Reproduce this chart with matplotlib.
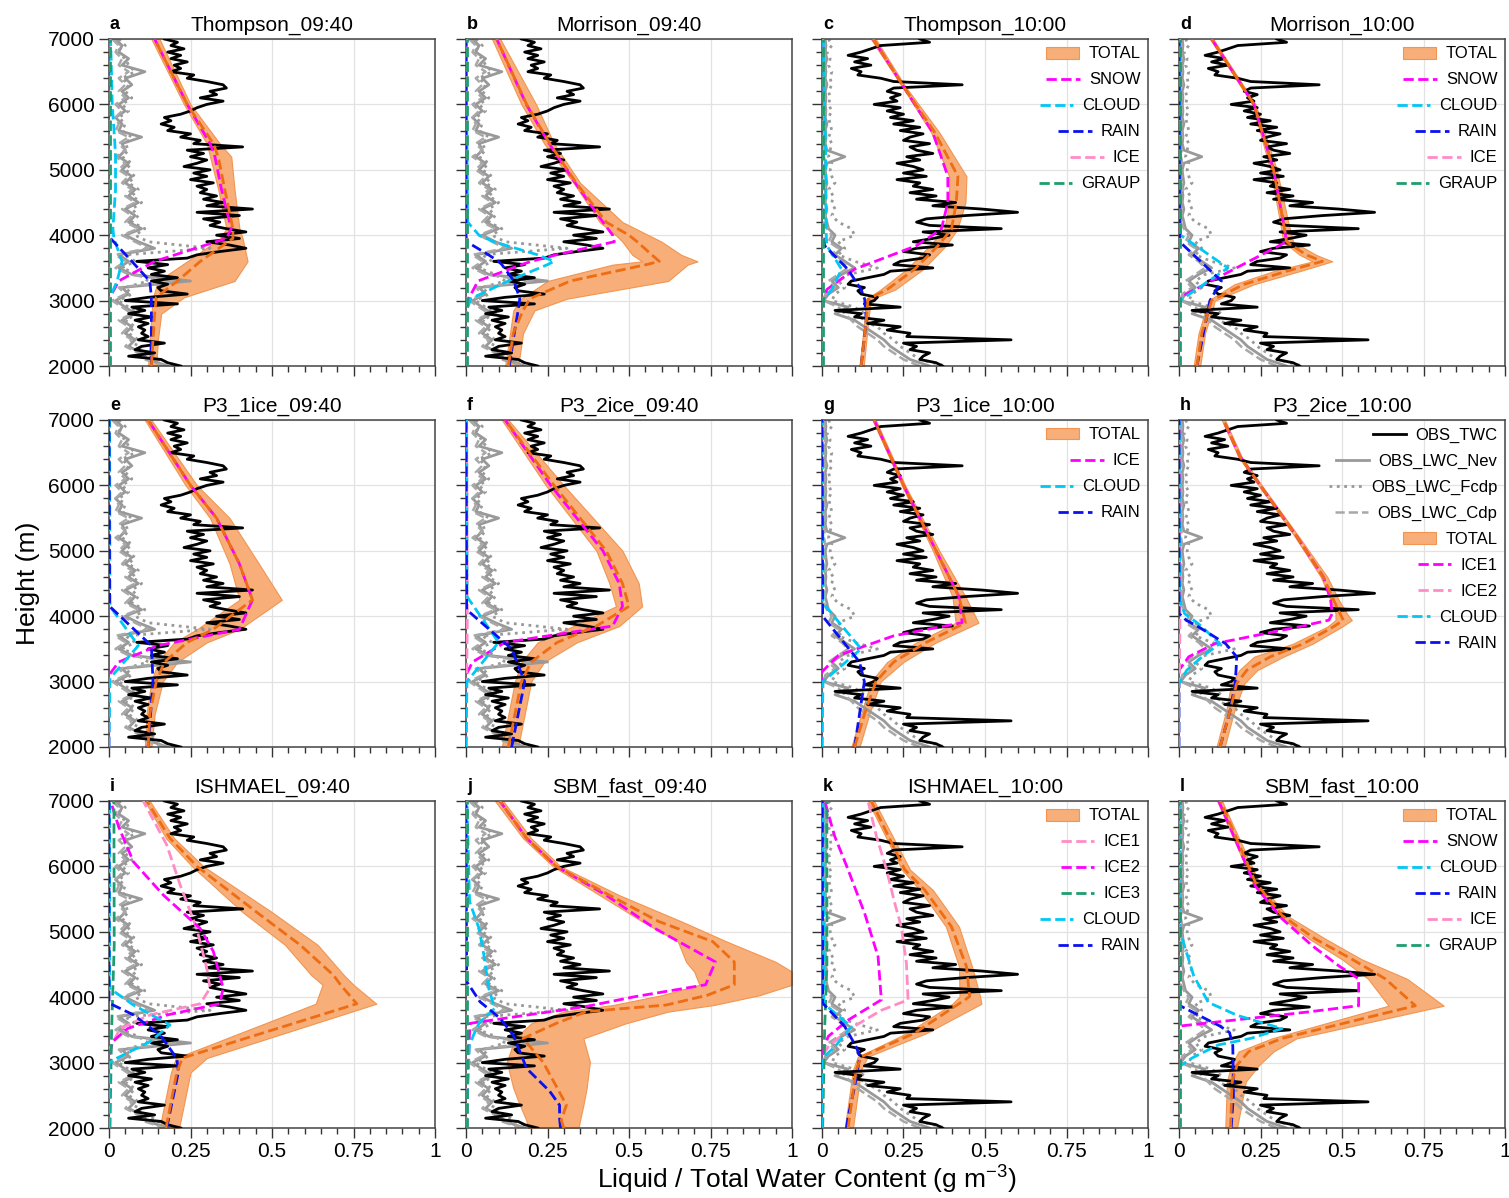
import matplotlib
matplotlib.use("Agg")
import matplotlib.pyplot as plt
from matplotlib.patches import Patch
from matplotlib.lines import Line2D
from matplotlib.ticker import MultipleLocator, FixedLocator

plt.rcParams['font.family'] = ['Liberation Sans', 'DejaVu Sans']
plt.rcParams['mathtext.fontset'] = 'custom'
plt.rcParams['mathtext.rm'] = 'Liberation Sans'
plt.rcParams['mathtext.it'] = 'Liberation Sans:italic'

# ---------------- observations ----------------
OBS_Z50 = list(range(7000, 1950, -50))
OBS_Z100 = list(range(7000, 1950, -100))

TWC_0940 = [0.17, 0.21, 0.19, 0.23, 0.18, 0.22, 0.19, 0.24, 0.20, 0.22,
            0.19, 0.26, 0.24, 0.30, 0.35, 0.36, 0.31, 0.33, 0.28, 0.35,
            0.30, 0.27, 0.25, 0.22, 0.17, 0.19, 0.16, 0.20, 0.18, 0.25,
            0.22, 0.28, 0.26, 0.41, 0.24, 0.29, 0.25, 0.30, 0.27, 0.23,
            0.31, 0.26, 0.30, 0.25, 0.32, 0.27, 0.30, 0.28, 0.33, 0.29,
            0.35, 0.30, 0.44, 0.27, 0.40, 0.29, 0.34, 0.31, 0.36, 0.42,
            0.33, 0.40, 0.30, 0.37, 0.42, 0.34, 0.27, 0.24, 0.085, 0.18,
            0.12, 0.17, 0.13, 0.21, 0.13, 0.18, 0.15, 0.16, 0.24, 0.12,
            0.05, 0.21, 0.07, 0.11, 0.06, 0.13, 0.08, 0.12, 0.09, 0.11,
            0.10, 0.12, 0.09, 0.17, 0.10, 0.08, 0.14, 0.06, 0.16, 0.18,
            0.22]
TWC_1000 = [0.30, 0.33, 0.18, 0.15, 0.12, 0.08, 0.14, 0.10, 0.15, 0.09,
            0.12, 0.11, 0.18, 0.22, 0.43, 0.22, 0.20, 0.24, 0.21, 0.23,
            0.16, 0.24, 0.20, 0.25, 0.21, 0.28, 0.22, 0.30, 0.24, 0.31,
            0.27, 0.25, 0.33, 0.27, 0.29, 0.34, 0.26, 0.30, 0.23, 0.28,
            0.31, 0.25, 0.32, 0.23, 0.30, 0.28, 0.34, 0.27, 0.35, 0.29,
            0.41, 0.34, 0.49, 0.60, 0.44, 0.32, 0.29, 0.33, 0.55, 0.31,
            0.39, 0.34, 0.28, 0.40, 0.29, 0.25, 0.33, 0.31, 0.24, 0.22,
            0.34, 0.21, 0.19, 0.14, 0.09, 0.08, 0.13, 0.11, 0.12, 0.17,
            0.16, 0.13, 0.24, 0.04, 0.12, 0.10, 0.19, 0.14, 0.24, 0.20,
            0.27, 0.26, 0.58, 0.25, 0.29, 0.27, 0.33, 0.31, 0.30, 0.35,
            0.37]

NEV_0940 = [0.02, 0.04, 0.03, 0.06, 0.04, 0.11, 0.05, 0.07, 0.04, 0.06,
            0.03, 0.05, 0.02, 0.04, 0.03, 0.10, 0.04, 0.05, 0.03, 0.06,
            0.04, 0.07, 0.05, 0.08, 0.06, 0.09, 0.05, 0.08, 0.06, 0.10,
            0.05, 0.09, 0.14, 0.03, 0.06, 0.03, 0.07, 0.25, 0.04, 0.06,
            0.02, 0.05, 0.08, 0.04, 0.07, 0.05, 0.08, 0.06, 0.10, 0.12,
            0.18]
FCDP_0940 = [0.03, 0.05, 0.02, 0.05, 0.06, 0.08, 0.04, 0.06, 0.05, 0.07,
             0.04, 0.06, 0.03, 0.05, 0.04, 0.07, 0.05, 0.06, 0.04, 0.07,
             0.05, 0.08, 0.06, 0.09, 0.07, 0.10, 0.07, 0.09, 0.07, 0.11,
             0.08, 0.12, 0.31, 0.05, 0.08, 0.04, 0.09, 0.12, 0.05, 0.07,
             0.03, 0.06, 0.09, 0.05, 0.08, 0.06, 0.09, 0.08, 0.12, 0.15,
             0.21]
CDP_0940 = [0.01, 0.03, 0.02, 0.04, 0.03, 0.06, 0.03, 0.05, 0.03, 0.05,
            0.02, 0.04, 0.02, 0.03, 0.02, 0.06, 0.03, 0.05, 0.02, 0.05,
            0.03, 0.06, 0.04, 0.07, 0.05, 0.08, 0.04, 0.07, 0.05, 0.09,
            0.04, 0.08, 0.12, 0.02, 0.05, 0.02, 0.06, 0.20, 0.03, 0.05,
            0.01, 0.04, 0.07, 0.03, 0.06, 0.04, 0.07, 0.05, 0.09, 0.11,
            0.17]
NEV_1000 = [0.01, 0.012, 0.01, 0.015, 0.01, 0.012, 0.01, 0.015, 0.01, 0.012,
            0.01, 0.012, 0.01, 0.015, 0.01, 0.012, 0.01, 0.015, 0.07, 0.015,
            0.01, 0.012, 0.015, 0.01, 0.012, 0.01, 0.015, 0.01, 0.015, 0.02,
            0.04, 0.03, 0.06, 0.04, 0.07, 0.10, 0.06, 0.03, 0.05, 0.02,
            0.005, 0.08, 0.04, 0.10, 0.13, 0.16, 0.19, 0.21, 0.24, 0.27,
            0.33]
FCDP_1000 = [0.02, 0.03, 0.015, 0.025, 0.02, 0.03, 0.025, 0.03, 0.02, 0.025,
             0.02, 0.03, 0.02, 0.025, 0.03, 0.02, 0.03, 0.025, 0.02, 0.03,
             0.025, 0.03, 0.04, 0.02, 0.035, 0.03, 0.04, 0.03, 0.05, 0.09,
             0.10, 0.05, 0.07, 0.05, 0.10, 0.17, 0.08, 0.05, 0.07, 0.04,
             0.03, 0.10, 0.13, 0.12, 0.17, 0.19, 0.22, 0.24, 0.27, 0.30,
             0.38]
CDP_1000 = [0.005, 0.008, 0.006, 0.01, 0.005, 0.008, 0.006, 0.01, 0.005, 0.008,
            0.006, 0.01, 0.005, 0.008, 0.006, 0.01, 0.005, 0.008, 0.006, 0.01,
            0.005, 0.008, 0.006, 0.01, 0.005, 0.008, 0.006, 0.01, 0.005, 0.015,
            0.03, 0.02, 0.05, 0.03, 0.06, 0.08, 0.05, 0.02, 0.04, 0.01,
            0.005, 0.05, 0.07, 0.09, 0.11, 0.14, 0.17, 0.19, 0.22, 0.25,
            0.30]

# ---------------- model profiles ----------------
NEAR0_Z = [2000, 4000, 7000]

# a Thompson_09:40
A_Z = [2000, 2400, 2800, 3050, 3300, 3600, 3950, 4100, 4700, 5200, 5400, 6000, 7000]
A_MID = [0.13, 0.135, 0.14, 0.145, 0.21, 0.28, 0.38, 0.38, 0.355, 0.335, 0.32, 0.24, 0.14]
A_LO = [0.12, 0.125, 0.13, 0.135, 0.15, 0.24, 0.34, 0.36, 0.335, 0.31, 0.30, 0.23, 0.13]
A_HI = [0.145, 0.15, 0.16, 0.23, 0.385, 0.425, 0.41, 0.40, 0.385, 0.375, 0.34, 0.25, 0.155]
A_SNOW = [0, 0, 0, 0.003, 0.03, 0.14, 0.36, 0.375, 0.345, 0.325, 0.31, 0.24, 0.14]
A_CLOUD = [0, 0, 0, 0.003, 0.025, 0.04, 0.015, 0.012, 0.02, 0.02, 0.018, 0.01, 0.005]
A_RAIN = [0.13, 0.13, 0.13, 0.13, 0.125, 0.07, 0.005, 0, 0, 0, 0, 0, 0]
A_ICE = [0.0, 0.003, 0.002]
A_GRAUP = [0.003, 0.003, 0.003]

# b Morrison_09:40
B_Z = [2000, 2500, 2850, 3030, 3300, 3550, 3600, 3700, 3900, 4000, 4200, 4800, 5400, 6000, 7000]
B_MID = [0.13, 0.145, 0.175, 0.196, 0.32, 0.553, 0.593, 0.57, 0.525, 0.50, 0.43, 0.338, 0.257, 0.186, 0.094]
B_LO = [0.12, 0.135, 0.145, 0.17, 0.25, 0.45, 0.54, 0.51, 0.48, 0.46, 0.41, 0.33, 0.24, 0.17, 0.08]
B_HI = [0.16, 0.175, 0.21, 0.31, 0.62, 0.68, 0.71, 0.66, 0.60, 0.56, 0.48, 0.35, 0.27, 0.215, 0.105]
B_SNOW = [0, 0, 0.003, 0.008, 0.037, 0.17, 0.20, 0.277, 0.455, 0.45, 0.42, 0.335, 0.255, 0.185, 0.094]
B_CLOUD = [0, 0, 0.002, 0.015, 0.13, 0.25, 0.27, 0.22, 0.085, 0.04, 0.005, 0.004, 0.003, 0.002, 0.001]
B_RAIN = [0.133, 0.148, 0.16, 0.165, 0.147, 0.11, 0.10, 0.069, 0.002, 0, 0, 0, 0, 0, 0]
B_ICE = [0.0, 0.003, 0.002]
B_GRAUP = [0.003, 0.003, 0.003]

# c Thompson_10:00
C_Z = [2000, 2700, 3020, 3170, 3480, 3840, 4090, 4500, 4900, 5570, 6280, 7000]
C_MID = [0.12, 0.136, 0.141, 0.20, 0.284, 0.356, 0.397, 0.412, 0.417, 0.346, 0.249, 0.157]
C_LO = [0.115, 0.13, 0.135, 0.18, 0.26, 0.33, 0.375, 0.39, 0.39, 0.335, 0.245, 0.15]
C_HI = [0.128, 0.142, 0.15, 0.225, 0.31, 0.38, 0.415, 0.44, 0.443, 0.36, 0.255, 0.165]
C_SNOW = [0, 0, 0.005, 0.015, 0.10, 0.29, 0.366, 0.386, 0.386, 0.34, 0.249, 0.157]
C_CLOUD = [0, 0, 0.003, 0.03, 0.06, 0.015, 0.012, 0.012, 0.012, 0.01, 0.006, 0.004]
C_RAIN = [0.12, 0.136, 0.131, 0.12, 0.079, 0.008, 0, 0, 0, 0, 0, 0]
C_ICE = [0.0, 0.002, 0.002]
C_GRAUP = [0.002, 0.002, 0.002]

# d Morrison_10:00
D_Z = [2000, 2500, 3000, 3250, 3450, 3600, 3700, 3900, 4200, 5000, 6000, 7000]
D_MID = [0.055, 0.07, 0.10, 0.20, 0.33, 0.44, 0.39, 0.33, 0.32, 0.29, 0.23, 0.10]
D_LO = [0.045, 0.06, 0.09, 0.17, 0.29, 0.41, 0.37, 0.32, 0.31, 0.28, 0.225, 0.095]
D_HI = [0.065, 0.08, 0.11, 0.23, 0.37, 0.47, 0.42, 0.35, 0.335, 0.30, 0.235, 0.105]
D_SNOW_Z = [2000, 3050, 3900, 4200, 5000, 6000, 7000]
D_SNOW = [0, 0.003, 0.33, 0.32, 0.29, 0.23, 0.10]
D_CLOUD_Z = [2000, 3000, 3500, 4000, 7000]
D_CLOUD = [0, 0.003, 0.15, 0.005, 0.002]
D_RAIN_Z = [2000, 3000, 3300, 3900, 7000]
D_RAIN = [0.055, 0.095, 0.13, 0.002, 0.0]
D_ICE = [0.0, 0.002, 0.002]
D_GRAUP = [0.002, 0.002, 0.002]

# e P3_1ice_09:40
E_Z = [2000, 2500, 3000, 3300, 3600, 3800, 4250, 4800, 5500, 6000, 7000]
E_MID = [0.12, 0.125, 0.145, 0.17, 0.24, 0.32, 0.44, 0.40, 0.33, 0.25, 0.12]
E_LO = [0.11, 0.115, 0.13, 0.15, 0.20, 0.27, 0.40, 0.37, 0.31, 0.235, 0.11]
E_HI = [0.13, 0.14, 0.165, 0.21, 0.30, 0.40, 0.53, 0.46, 0.37, 0.27, 0.13]
E_ICE_Z = [2000, 3100, 3300, 3550, 3800, 4250, 4800, 5500, 6000, 7000]
E_ICE = [0.0, 0.0, 0.03, 0.15, 0.40, 0.44, 0.40, 0.33, 0.25, 0.12]
E_CLOUD_Z = [2000, 3050, 3550, 4150, 7000]
E_CLOUD = [0.0, 0.003, 0.09, 0.003, 0.002]
E_RAIN_Z = [2000, 3000, 3550, 4150, 7000]
E_RAIN = [0.12, 0.135, 0.13, 0.002, 0.0]

# f P3_2ice_09:40
F_Z = [2000, 2500, 3000, 3300, 3600, 3850, 4150, 4500, 5000, 6000, 7000]
F_MID = [0.13, 0.15, 0.17, 0.20, 0.28, 0.40, 0.50, 0.48, 0.43, 0.27, 0.12]
F_LO = [0.11, 0.13, 0.15, 0.17, 0.22, 0.33, 0.46, 0.44, 0.40, 0.245, 0.11]
F_HI = [0.16, 0.18, 0.20, 0.24, 0.34, 0.47, 0.54, 0.53, 0.48, 0.30, 0.13]
F_ICE1_Z = [2000, 3100, 3300, 3600, 3850, 4150, 4500, 5000, 6000, 7000]
F_ICE1 = [0.0, 0.0, 0.02, 0.12, 0.45, 0.48, 0.47, 0.42, 0.26, 0.12]
F_ICE2 = [0.0, 0.004, 0.002]
F_CLOUD_Z = [2000, 3000, 3600, 4300, 7000]
F_CLOUD = [0.0, 0.003, 0.10, 0.003, 0.002]
F_RAIN_Z = [2000, 3000, 3500, 4100, 7000]
F_RAIN = [0.14, 0.18, 0.14, 0.002, 0.0]

# g P3_1ice_10:00
G_Z = [2000, 2500, 3000, 3300, 3600, 3900, 4300, 5000, 6000, 7000]
G_MID = [0.10, 0.13, 0.165, 0.22, 0.32, 0.44, 0.42, 0.35, 0.25, 0.16]
G_LO = [0.09, 0.12, 0.15, 0.20, 0.29, 0.41, 0.40, 0.34, 0.245, 0.155]
G_HI = [0.115, 0.145, 0.18, 0.25, 0.35, 0.48, 0.44, 0.36, 0.255, 0.165]
G_ICE_Z = [2000, 3150, 3400, 3700, 3900, 4300, 5000, 6000, 7000]
G_ICE = [0.0, 0.0, 0.05, 0.22, 0.43, 0.42, 0.35, 0.25, 0.16]
G_CLOUD_Z = [2000, 3000, 3500, 4200, 7000]
G_CLOUD = [0.0, 0.003, 0.12, 0.003, 0.002]
G_RAIN_Z = [2000, 3000, 3300, 4000, 7000]
G_RAIN = [0.10, 0.13, 0.115, 0.002, 0.0]

# h P3_2ice_10:00
H_Z = [2000, 2560, 2970, 3175, 3380, 3580, 3840, 3940, 4040, 4250, 4600, 5220, 5930, 6440, 7000]
H_MID = [0.126, 0.157, 0.177, 0.208, 0.28, 0.382, 0.474, 0.504, 0.494, 0.474, 0.443, 0.361, 0.259, 0.187, 0.136]
H_LO = [0.115, 0.145, 0.16, 0.185, 0.23, 0.35, 0.455, 0.48, 0.48, 0.465, 0.435, 0.355, 0.254, 0.182, 0.131]
H_HI = [0.14, 0.17, 0.20, 0.24, 0.32, 0.41, 0.50, 0.53, 0.515, 0.49, 0.455, 0.367, 0.264, 0.192, 0.141]
H_ICE1 = [0, 0, 0, 0, 0.03, 0.11, 0.37, 0.46, 0.47, 0.465, 0.443, 0.361, 0.259, 0.187, 0.136]
H_ICE2 = [0.0, 0.003, 0.002]
H_CLOUD = [0, 0, 0, 0.024, 0.071, 0.125, 0.07, 0.045, 0.017, 0.003, 0.002, 0.002, 0.001, 0.001, 0.001]
H_RAIN = [0.126, 0.157, 0.172, 0.175, 0.177, 0.143, 0.059, 0.022, 0, 0, 0, 0, 0, 0, 0]

# i ISHMAEL_09:40
I_Z = [2000, 2850, 3070, 3900, 4190, 4340, 4800, 5300, 6000, 6430, 7000]
I_MID = [0.175, 0.208, 0.225, 0.76, 0.71, 0.688, 0.586, 0.453, 0.27, 0.187, 0.116]
I_LO = [0.155, 0.19, 0.205, 0.634, 0.655, 0.62, 0.54, 0.41, 0.255, 0.175, 0.11]
I_HI = [0.215, 0.25, 0.30, 0.82, 0.75, 0.72, 0.64, 0.50, 0.29, 0.20, 0.125]
I_ICE1_Z = [2000, 3220, 3520, 3730, 3900, 4140, 4440, 5050, 5720, 6330, 7000]
I_ICE1 = [0.0, 0.003, 0.034, 0.126, 0.28, 0.31, 0.30, 0.269, 0.218, 0.177, 0.105]
I_ICE2_Z = [2000, 3070, 3320, 3520, 3730, 3900, 4140, 4700, 5050, 5560, 6070, 6600, 7000]
I_ICE2 = [0.0, 0.0, 0.011, 0.057, 0.18, 0.34, 0.35, 0.32, 0.28, 0.167, 0.075, 0.03, 0.005]
I_ICE3_Z = [2000, 3500, 4800, 7000]
I_ICE3 = [0.003, 0.008, 0.016, 0.015]
I_CLOUD_Z = [2000, 2990, 3065, 3320, 3575, 3880, 4135, 7000]
I_CLOUD = [0, 0, 0.023, 0.126, 0.187, 0.075, 0.002, 0.002]
I_RAIN_Z = [2000, 2860, 3065, 3420, 3730, 3910, 7000]
I_RAIN = [0.177, 0.213, 0.208, 0.157, 0.075, 0.0, 0.0]

# j SBM_fast_09:40
J_Z = [2000, 2120, 2350, 2610, 3010, 3370, 3600, 3780, 3880, 4030, 4190, 4390, 4540, 4850, 5160, 5560, 6000, 6430, 7000]
J_MID = [0.30, 0.292, 0.308, 0.28, 0.236, 0.175, 0.277, 0.369, 0.614, 0.74, 0.823, 0.823, 0.823, 0.757, 0.59, 0.44, 0.277, 0.186, 0.104]
J_LO = [0.19, 0.185, 0.165, 0.145, 0.125, 0.15, 0.20, 0.30, 0.45, 0.60, 0.716, 0.70, 0.675, 0.65, 0.54, 0.41, 0.267, 0.175, 0.089]
J_HI = [0.345, 0.35, 0.36, 0.37, 0.38, 0.36, 0.49, 0.62, 0.76, 0.90, 1.0, 1.0, 0.95, 0.80, 0.66, 0.47, 0.29, 0.20, 0.114]
J_SNOW_Z = [2000, 3600, 3860, 4010, 4190, 4540, 5050, 5560, 6000, 6430, 7000]
J_SNOW = [0.0, 0.012, 0.37, 0.52, 0.735, 0.765, 0.58, 0.43, 0.277, 0.186, 0.104]
J_CLOUD_Z = [2000, 3250, 3420, 3600, 3830, 4130, 4640, 5050, 5460, 7000]
J_CLOUD = [0.0, 0.01, 0.023, 0.04, 0.088, 0.07, 0.055, 0.04, 0.011, 0.003]
J_RAIN_Z = [2000, 2150, 2350, 2560, 2910, 3420, 3680, 3930, 4240, 7000]
J_RAIN = [0.29, 0.287, 0.287, 0.257, 0.186, 0.145, 0.104, 0.043, 0.002, 0.0]
J_ICE = [0.0, 0.002, 0.002]
J_GRAUP = [0.002, 0.002, 0.002]

# k ISHMAEL_10:00
K_Z = [2000, 2180, 2890, 3090, 3450, 3900, 4010, 4470, 5080, 5640, 5950, 7000]
K_MID = [0.08, 0.085, 0.105, 0.121, 0.284, 0.42, 0.453, 0.443, 0.397, 0.315, 0.254, 0.151]
K_LO = [0.07, 0.075, 0.095, 0.11, 0.26, 0.40, 0.422, 0.42, 0.38, 0.30, 0.245, 0.141]
K_HI = [0.095, 0.10, 0.12, 0.14, 0.32, 0.489, 0.485, 0.46, 0.42, 0.34, 0.27, 0.16]
K_ICE1_Z = [2000, 3100, 3240, 3500, 3800, 3960, 4520, 5080, 5440, 5950, 6460, 7000]
K_ICE1 = [0.0, 0.0, 0.019, 0.08, 0.182, 0.264, 0.259, 0.243, 0.223, 0.198, 0.167, 0.141]
K_ICE2_Z = [2000, 3100, 3240, 3400, 3650, 3960, 4620, 5280, 5950, 6460, 7000]
K_ICE2 = [0.0, 0.0, 0.008, 0.019, 0.08, 0.182, 0.172, 0.131, 0.08, 0.039, 0.008]
K_ICE3_Z = [2000, 3500, 4500, 7000]
K_ICE3 = [0.002, 0.008, 0.015, 0.015]
K_CLOUD_Z = [2000, 3060, 3240, 3550, 3900, 7000]
K_CLOUD = [0, 0, 0.039, 0.09, 0.006, 0.003]
K_RAIN_Z = [2000, 2170, 2630, 3090, 3240, 3550, 3910, 7000]
K_RAIN = [0.075, 0.08, 0.10, 0.116, 0.105, 0.07, 0.002, 0.001]

# l SBM_fast_10:00
L_Z = [2000, 2710, 2960, 3170, 3370, 3870, 4280, 4580, 4890, 5250, 5760, 7000]
L_MID = [0.158, 0.163, 0.178, 0.214, 0.316, 0.725, 0.633, 0.531, 0.418, 0.316, 0.234, 0.127]
L_LO = [0.142, 0.147, 0.16, 0.183, 0.285, 0.643, 0.58, 0.50, 0.40, 0.305, 0.225, 0.117]
L_HI = [0.178, 0.205, 0.245, 0.29, 0.36, 0.812, 0.70, 0.56, 0.45, 0.33, 0.245, 0.132]
L_SNOW_Z = [2000, 3560, 3770, 3870, 4280, 4480, 4790, 5200, 5700, 7000]
L_SNOW = [0.0, 0.005, 0.388, 0.551, 0.551, 0.49, 0.408, 0.316, 0.234, 0.122]
L_CLOUD_Z = [2000, 2950, 3070, 3270, 3370, 3520, 3720, 3920, 4330, 4990, 7000]
L_CLOUD = [0.0, 0.004, 0.04, 0.12, 0.22, 0.316, 0.18, 0.09, 0.045, 0.004, 0.002]
L_RAIN_Z = [2000, 2500, 3260, 3460, 3560, 3870, 7000]
L_RAIN = [0.16, 0.167, 0.165, 0.155, 0.125, 0.003, 0.0]
L_ICE = [0.0, 0.002, 0.002]
L_GRAUP = [0.002, 0.002, 0.002]

TITLES = ['Thompson_09:40', 'Morrison_09:40', 'Thompson_10:00', 'Morrison_10:00',
          'P3_1ice_09:40', 'P3_2ice_09:40', 'P3_1ice_10:00', 'P3_2ice_10:00',
          'ISHMAEL_09:40', 'SBM_fast_09:40', 'ISHMAEL_10:00', 'SBM_fast_10:00']
LETTERS = list('abcdefghijkl')

# ---------------- styles ----------------
MAG = '#FF00FF'
CYAN = '#00C8F5'
BLUE = '#0A10F0'
PINK = '#FF8CC6'
GREEN = '#1E9E6E'
ORANGE = '#EE6C12'
BAND_FC = '#F7AE78'
BAND_EC = '#F29550'
GRAY = '#999999'

OBS = {
    '0940': (TWC_0940, NEV_0940, FCDP_0940, CDP_0940),
    '1000': (TWC_1000, NEV_1000, FCDP_1000, CDP_1000),
}

PANELS = [
    ('0940', A_Z, A_LO, A_MID, A_HI,
     [('SNOW', MAG, A_Z, A_SNOW), ('CLOUD', CYAN, A_Z, A_CLOUD), ('RAIN', BLUE, A_Z, A_RAIN),
      ('ICE', PINK, NEAR0_Z, A_ICE), ('GRAUP', GREEN, NEAR0_Z, A_GRAUP)], None),
    ('0940', B_Z, B_LO, B_MID, B_HI,
     [('SNOW', MAG, B_Z, B_SNOW), ('CLOUD', CYAN, B_Z, B_CLOUD), ('RAIN', BLUE, B_Z, B_RAIN),
      ('ICE', PINK, NEAR0_Z, B_ICE), ('GRAUP', GREEN, NEAR0_Z, B_GRAUP)], None),
    ('1000', C_Z, C_LO, C_MID, C_HI,
     [('SNOW', MAG, C_Z, C_SNOW), ('CLOUD', CYAN, C_Z, C_CLOUD), ('RAIN', BLUE, C_Z, C_RAIN),
      ('ICE', PINK, NEAR0_Z, C_ICE), ('GRAUP', GREEN, NEAR0_Z, C_GRAUP)], 'model'),
    ('1000', D_Z, D_LO, D_MID, D_HI,
     [('SNOW', MAG, D_SNOW_Z, D_SNOW), ('CLOUD', CYAN, D_CLOUD_Z, D_CLOUD), ('RAIN', BLUE, D_RAIN_Z, D_RAIN),
      ('ICE', PINK, NEAR0_Z, D_ICE), ('GRAUP', GREEN, NEAR0_Z, D_GRAUP)], 'model'),
    ('0940', E_Z, E_LO, E_MID, E_HI,
     [('ICE', MAG, E_ICE_Z, E_ICE), ('CLOUD', CYAN, E_CLOUD_Z, E_CLOUD), ('RAIN', BLUE, E_RAIN_Z, E_RAIN)], None),
    ('0940', F_Z, F_LO, F_MID, F_HI,
     [('ICE1', MAG, F_ICE1_Z, F_ICE1), ('ICE2', PINK, NEAR0_Z, F_ICE2),
      ('CLOUD', CYAN, F_CLOUD_Z, F_CLOUD), ('RAIN', BLUE, F_RAIN_Z, F_RAIN)], None),
    ('1000', G_Z, G_LO, G_MID, G_HI,
     [('ICE', MAG, G_ICE_Z, G_ICE), ('CLOUD', CYAN, G_CLOUD_Z, G_CLOUD), ('RAIN', BLUE, G_RAIN_Z, G_RAIN)], 'model'),
    ('1000', H_Z, H_LO, H_MID, H_HI,
     [('ICE1', MAG, H_Z, H_ICE1), ('ICE2', PINK, NEAR0_Z, H_ICE2),
      ('CLOUD', CYAN, H_Z, H_CLOUD), ('RAIN', BLUE, H_Z, H_RAIN)], 'full'),
    ('0940', I_Z, I_LO, I_MID, I_HI,
     [('ICE1', PINK, I_ICE1_Z, I_ICE1), ('ICE2', MAG, I_ICE2_Z, I_ICE2), ('ICE3', GREEN, I_ICE3_Z, I_ICE3),
      ('CLOUD', CYAN, I_CLOUD_Z, I_CLOUD), ('RAIN', BLUE, I_RAIN_Z, I_RAIN)], None),
    ('0940', J_Z, J_LO, J_MID, J_HI,
     [('SNOW', MAG, J_SNOW_Z, J_SNOW), ('CLOUD', CYAN, J_CLOUD_Z, J_CLOUD), ('RAIN', BLUE, J_RAIN_Z, J_RAIN),
      ('ICE', PINK, NEAR0_Z, J_ICE), ('GRAUP', GREEN, NEAR0_Z, J_GRAUP)], None),
    ('1000', K_Z, K_LO, K_MID, K_HI,
     [('ICE1', PINK, K_ICE1_Z, K_ICE1), ('ICE2', MAG, K_ICE2_Z, K_ICE2), ('ICE3', GREEN, K_ICE3_Z, K_ICE3),
      ('CLOUD', CYAN, K_CLOUD_Z, K_CLOUD), ('RAIN', BLUE, K_RAIN_Z, K_RAIN)], 'model'),
    ('1000', L_Z, L_LO, L_MID, L_HI,
     [('SNOW', MAG, L_SNOW_Z, L_SNOW), ('CLOUD', CYAN, L_CLOUD_Z, L_CLOUD), ('RAIN', BLUE, L_RAIN_Z, L_RAIN),
      ('ICE', PINK, NEAR0_Z, L_ICE), ('GRAUP', GREEN, NEAR0_Z, L_GRAUP)], 'model'),
]

FIG_W, FIG_H = 1509, 1198
fig = plt.figure(figsize=(FIG_W / 100, FIG_H / 100), dpi=100)
LEFTS = [109, 466, 822, 1179]
TOPS = [39, 420, 801]
AW, AH = 326, 327

for idx, (tkey, Z, LO, MID, HI, species, legmode) in enumerate(PANELS):
    r, c = divmod(idx, 4)
    ax = fig.add_axes([LEFTS[c] / FIG_W, (FIG_H - TOPS[r] - AH) / FIG_H, AW / FIG_W, AH / FIG_H])
    twc, nev, fcdp, cdp = OBS[tkey]

    ax.fill_betweenx(Z, LO, HI, facecolor=BAND_FC, edgecolor=BAND_EC, lw=0.8, zorder=1)
    ax.plot(nev, OBS_Z100, color=GRAY, lw=2.0, zorder=2)
    ax.plot(fcdp, OBS_Z100, color=GRAY, lw=2.0, ls=':', zorder=2)
    ax.plot(cdp, OBS_Z100, color='#a8a8a8', lw=1.8, ls='--', zorder=2)
    ax.plot(twc, OBS_Z50, color='black', lw=2.0, zorder=3)
    for lab, col, zz, vv in species:
        ax.plot(vv, zz, color=col, lw=2.0, ls='--', zorder=4)
    ax.plot(MID, Z, color=ORANGE, lw=2.0, ls='--', zorder=5)

    ax.set_xlim(0, 1)
    ax.set_ylim(2000, 7000)
    ax.xaxis.set_major_locator(FixedLocator([0, 0.25, 0.5, 0.75, 1.0]))
    ax.xaxis.set_minor_locator(MultipleLocator(0.05))
    ax.yaxis.set_major_locator(FixedLocator([2000, 3000, 4000, 5000, 6000, 7000]))
    ax.yaxis.set_minor_locator(MultipleLocator(200))
    ax.tick_params(which='both', direction='out', top=False, right=False,
                   color='#333333', width=1.0, labelsize=15, pad=3)
    ax.tick_params(which='major', length=7)
    ax.tick_params(which='minor', length=4)
    ax.grid(True, which='major', color='#e2e2e2', lw=0.9, zorder=0)
    ax.set_axisbelow(True)
    for sp in ax.spines.values():
        sp.set_color('#444444')
        sp.set_linewidth(1.1)
    if r == 2:
        ax.set_xticklabels(['0', '0.25', '0.5', '0.75', '1'])
    else:
        ax.set_xticklabels([])
    if c == 0:
        ax.set_yticklabels(['2000', '3000', '4000', '5000', '6000', '7000'])
    else:
        ax.set_yticklabels([])

    ax.set_title(TITLES[idx], fontsize=15, pad=6)
    ax.text(0.003, 1.03, LETTERS[idx], transform=ax.transAxes, fontsize=13,
            fontweight='bold', ha='left', va='baseline')

    if legmode is not None:
        handles, labels = [], []
        if legmode == 'full':
            handles += [Line2D([], [], color='black', lw=2),
                        Line2D([], [], color=GRAY, lw=2),
                        Line2D([], [], color=GRAY, lw=2, ls=':'),
                        Line2D([], [], color='#a8a8a8', lw=1.8, ls='--')]
            labels += ['OBS_TWC', 'OBS_LWC_Nev', 'OBS_LWC_Fcdp', 'OBS_LWC_Cdp']
        handles.append(Patch(facecolor=BAND_FC, edgecolor=BAND_EC, lw=0.8))
        labels.append('TOTAL')
        for lab, col, zz, vv in species:
            handles.append(Line2D([], [], color=col, lw=2, ls='--'))
            labels.append(lab)
        leg = ax.legend(handles, labels, loc='upper right', frameon=False, fontsize=12,
                        handlelength=2.0, handletextpad=0.55, labelspacing=0.66,
                        borderaxespad=0.3, borderpad=0.15)
        for colbox in leg._legend_handle_box.get_children():
            colbox.align = 'right'

fig.text(28 / FIG_W, 1 - 583 / FIG_H, 'Height (m)', rotation=90, fontsize=19,
         ha='center', va='center')
fig.text(807 / FIG_W, 1 - 1180 / FIG_H, 'Liquid / Total Water Content (g m$^{-3}$)',
         fontsize=19, ha='center', va='center')

fig.savefig('out.png', dpi=100)
